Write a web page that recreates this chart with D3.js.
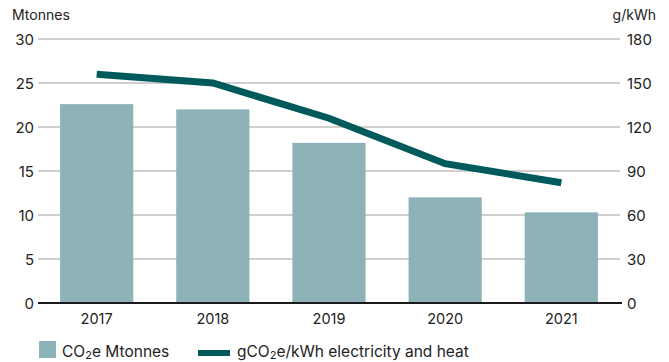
<!DOCTYPE html>
<html>
<head>
<meta charset="utf-8">
<script src="https://cdn.jsdelivr.net/npm/d3@7"></script>
<style>
  body { margin: 0; background: #fff; }
  text { font-family: "Inter", "Liberation Sans", sans-serif; fill: #222; }
</style>
</head>
<body>
<div id="chart"></div>
<script>
const years = ["2017", "2018", "2019", "2020", "2021"];
const mtonnes = [22.6, 22.0, 18.2, 12.0, 10.3];
const gPerKwh = [156, 150, 126, 95, 82];
const leftTicks = [0, 5, 10, 15, 20, 25, 30];
const rightTicks = [0, 30, 60, 90, 120, 150, 180];

const W = 669, H = 362;
const margin = {left: 38, right: 620, top: 39, bottom: 303};

const svg = d3.select("#chart").append("svg")
    .attr("width", W)
    .attr("height", H);

const x = d3.scaleBand()
    .domain(years)
    .range([margin.left, margin.right])
    .paddingInner(0.37)
    .paddingOuter(0.19);

const yL = d3.scaleLinear().domain([0, 30]).range([margin.bottom, margin.top]);
const yR = d3.scaleLinear().domain([0, 180]).range([margin.bottom, margin.top]);

// grid lines
svg.append("g")
    .selectAll("line")
    .data(leftTicks.filter(d => d > 0))
    .enter().append("line")
    .attr("x1", margin.left)
    .attr("x2", margin.right)
    .attr("y1", d => yL(d))
    .attr("y2", d => yL(d))
    .attr("stroke", "#a0a0a0")
    .attr("stroke-width", 1.2);

// left labels
svg.append("g")
    .selectAll("text")
    .data(leftTicks)
    .enter().append("text")
    .attr("x", margin.left - 4)
    .attr("y", d => yL(d) + 5.5)
    .attr("text-anchor", "end")
    .style("font-size", "15px")
    .text(d => d);

// right labels
svg.append("g")
    .selectAll("text")
    .data(rightTicks)
    .enter().append("text")
    .attr("x", margin.right + 7)
    .attr("y", d => yR(d) + 5.5)
    .attr("text-anchor", "start")
    .style("font-size", "15px")
    .text(d => d);

svg.append("text")
    .attr("x", 12)
    .attr("y", 20)
    .style("font-size", "14px")
    .text("Mtonnes");

svg.append("text")
    .attr("x", 656)
    .attr("y", 20)
    .attr("text-anchor", "end")
    .style("font-size", "14px")
    .text("g/kWh");

// bars
svg.selectAll(".bar")
    .data(years)
    .enter().append("rect")
    .attr("class", "bar")
    .attr("x", d => x(d))
    .attr("y", (d, i) => yL(mtonnes[i]))
    .attr("width", x.bandwidth())
    .attr("height", (d, i) => margin.bottom - yL(mtonnes[i]))
    .attr("fill", "#8db3b9");

// zero line
svg.append("line")
    .attr("x1", margin.left)
    .attr("x2", margin.right + 2)
    .attr("y1", margin.bottom)
    .attr("y2", margin.bottom)
    .attr("stroke", "#1a1a1a")
    .attr("stroke-width", 2.2);

// year labels
svg.append("g")
    .selectAll("text")
    .data(years)
    .enter().append("text")
    .attr("x", d => x(d) + x.bandwidth() / 2)
    .attr("y", margin.bottom + 21)
    .attr("text-anchor", "middle")
    .style("font-size", "14.5px")
    .text(d => d);

// line
const line = d3.line()
    .x((d, i) => x(years[i]) + x.bandwidth() / 2)
    .y(d => yR(d));

svg.append("path")
    .datum(gPerKwh)
    .attr("d", line)
    .attr("fill", "none")
    .attr("stroke", "#005a5c")
    .attr("stroke-width", 7);

// legend
svg.append("rect")
    .attr("x", 39)
    .attr("y", 341)
    .attr("width", 17)
    .attr("height", 17)
    .attr("fill", "#8db3b9");

const t1 = svg.append("text")
    .attr("x", 62)
    .attr("y", 357)
    .style("font-size", "15.5px");
t1.append("tspan").text("CO");
t1.append("tspan").style("font-size", "11px").attr("dy", 2).text("2");
t1.append("tspan").attr("dy", -2).text("e Mtonnes");

svg.append("rect")
    .attr("x", 198)
    .attr("y", 350)
    .attr("width", 32)
    .attr("height", 6)
    .attr("fill", "#005a5c");

const t2 = svg.append("text")
    .attr("x", 237)
    .attr("y", 357)
    .style("font-size", "15.5px");
t2.append("tspan").text("gCO");
t2.append("tspan").style("font-size", "11px").attr("dy", 2).text("2");
t2.append("tspan").attr("dy", -2).text("e/kWh electricity and heat");
</script>
</body>
</html>
